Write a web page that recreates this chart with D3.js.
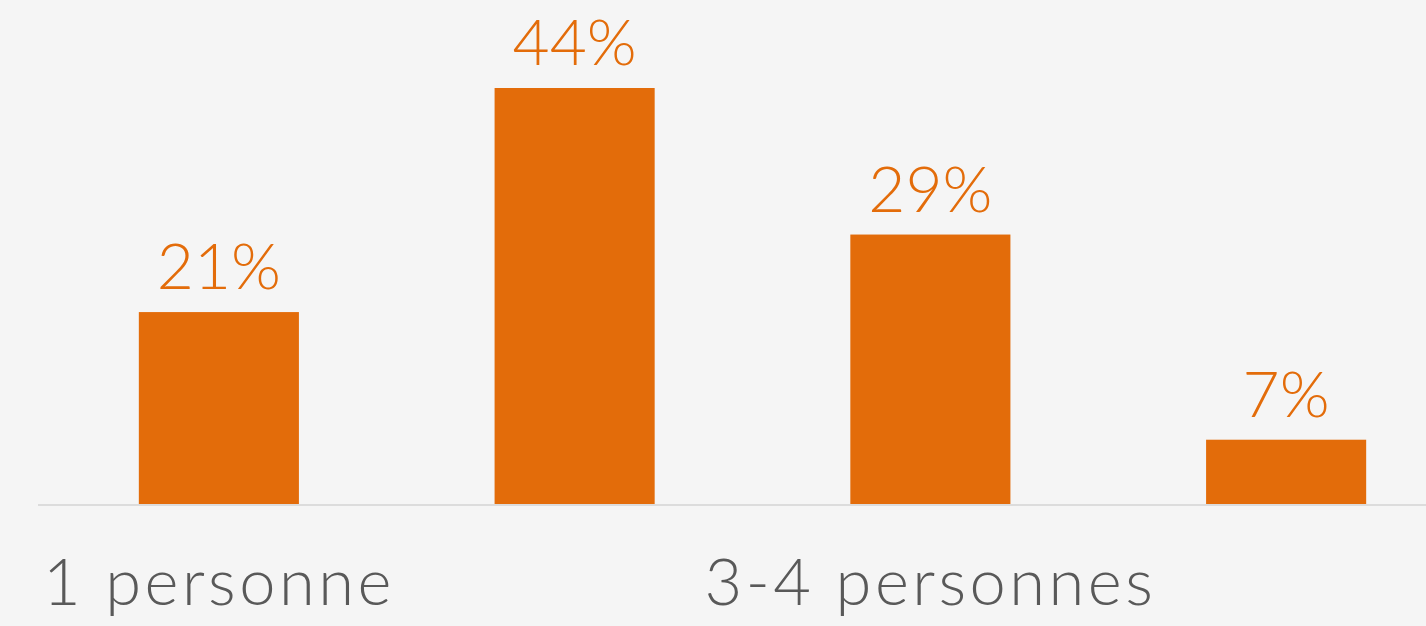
<!DOCTYPE html>
<html>
  <head>
    <meta charset="utf-8">
    <script src="https://unpkg.com/d3@7/dist/d3.min.js"></script>
    <style>
      html, body {
        margin: 0;
        padding: 0;
        background: #f5f5f5;
      }

      svg {
        display: block;
      }

      .bar {
        fill: #e36c0a;
      }

      .value-label {
        fill: #e36c0a;
        font-family: Lato, sans-serif;
        font-weight: 300;
        font-size: 64px;
        text-anchor: middle;
      }

      .x-axis text {
        fill: #595959;
        font-family: Lato, sans-serif;
        font-weight: 300;
        font-size: 65px;
        letter-spacing: 3.5px;
      }

      .baseline {
        stroke: #dcdcdc;
        stroke-width: 2px;
      }
    </style>
  </head>
  <body>
    <script>
      const categories = ['1 personne', '2 personnes', '3-4 personnes', '5 personnes et plus'];
      const values = [20.3, 44, 28.5, 6.8];
      const valueLabels = ['21%', '44%', '29%', '7%'];

      const width = 1426;
      const height = 626;
      const baseY = 504;

      const svg = d3.select('body')
        .append('svg')
        .attr('width', width)
        .attr('height', height);

      const xScale = d3.scaleBand()
        .domain(categories)
        .range([41, 1464])
        .paddingInner(0.55)
        .paddingOuter(0.275);

      const yScale = d3.scaleLinear()
        .domain([0, d3.max(values)])
        .range([baseY, 88]);

      const data = categories.map((c, i) => ({cat: c, value: values[i], label: valueLabels[i]}));

      svg.selectAll('.bar').data(data)
        .enter()
        .append('rect')
        .classed('bar', true)
        .attr('x', d => xScale(d.cat))
        .attr('y', d => yScale(d.value))
        .attr('width', xScale.bandwidth())
        .attr('height', d => baseY - yScale(d.value));

      svg.selectAll('.value-label').data(data)
        .enter()
        .append('text')
        .classed('value-label', true)
        .attr('x', d => xScale(d.cat) + xScale.bandwidth() / 2)
        .attr('y', d => yScale(d.value) - 23)
        .text(d => d.label);

      svg.append('line')
        .classed('baseline', true)
        .attr('x1', 38)
        .attr('x2', width)
        .attr('y1', baseY + 1)
        .attr('y2', baseY + 1);

      // only every other category fits under the bars
      const xAxis = d3.axisBottom(xScale)
        .tickSize(0)
        .tickPadding(0)
        .tickValues(categories.filter((c, i) => i % 2 === 0));

      const axisG = svg.append('g')
        .classed('x-axis', true)
        .attr('transform', `translate(0, ${baseY})`)
        .call(xAxis);

      axisG.select('.domain').remove();
      axisG.selectAll('text')
        .attr('dy', null)
        .attr('y', 101);
    </script>
  </body>
</html>
